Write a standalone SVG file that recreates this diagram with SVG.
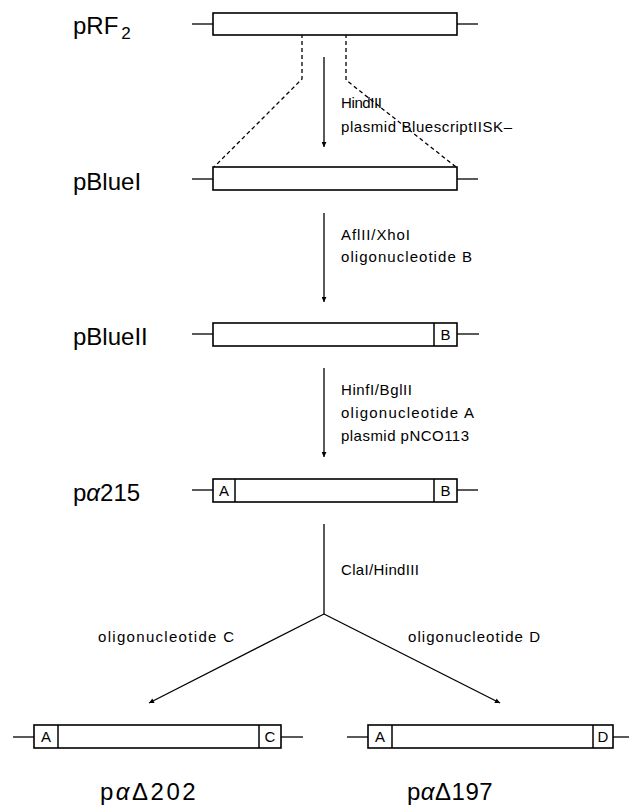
<svg xmlns="http://www.w3.org/2000/svg" width="629" height="806" viewBox="0 0 629 806">
  <style>
    .box { fill: #fff; stroke: #000; stroke-width: 1.6; }
    .div { stroke: #000; stroke-width: 1.5; }
    .stub { stroke: #000; stroke-width: 1.3; }
    .conn { stroke: #000; stroke-width: 1.3; fill: none; }
    .dash { stroke: #000; stroke-width: 1.3; fill: none; stroke-dasharray: 4 3; }
    .name { font-family: "Liberation Sans", Arial, sans-serif; font-size: 24px; fill: #000; }
    .lbl { font-family: "Liberation Sans", Arial, sans-serif; font-size: 15px; fill: #000; }
    .cell { font-family: "Liberation Sans", Arial, sans-serif; font-size: 15px; fill: #000; text-anchor: middle; }
  </style>
  <defs>
    <marker id="arr" viewBox="0 0 10 10" refX="10" refY="5" markerUnits="userSpaceOnUse" markerWidth="9" markerHeight="5" orient="auto">
      <path d="M0,0 L10,5 L0,10 z" fill="#000"/>
    </marker>
  </defs>

  <!-- connectors -->
  <g id="connectors">
    <path class="dash" d="M302,13 V79 L214,167"/>
    <path class="dash" d="M346,13 V80 L456,167"/>
    <line class="conn" x1="324" y1="57" x2="324" y2="147" marker-end="url(#arr)"/>
    <line class="conn" x1="324" y1="213" x2="324" y2="302" marker-end="url(#arr)"/>
    <line class="conn" x1="324" y1="368" x2="324" y2="457" marker-end="url(#arr)"/>
    <line class="conn" x1="324" y1="524" x2="324" y2="614"/>
    <line class="conn" x1="324" y1="614" x2="149" y2="703" marker-end="url(#arr)"/>
    <line class="conn" x1="324" y1="614" x2="500" y2="703" marker-end="url(#arr)"/>
    <text class="lbl" x="341" y="108" textLength="41">HindIII</text>
    <text class="lbl" x="341" y="132" textLength="171">plasmid BluescriptIISK–</text>
    <text class="lbl" x="341" y="240" textLength="69">AflII/XhoI</text>
    <text class="lbl" x="341" y="262" textLength="131">oligonucleotide  B</text>
    <text class="lbl" x="341" y="395" textLength="71">HinfI/BglII</text>
    <text class="lbl" x="341" y="418" textLength="133">oligonucleotide  A</text>
    <text class="lbl" x="341" y="441" textLength="128">plasmid  pNCO113</text>
    <text class="lbl" x="341" y="575" textLength="78">ClaI/HindIII</text>
    <text class="lbl" x="98" y="642" textLength="136">oligonucleotide  C</text>
    <text class="lbl" x="408" y="642" textLength="132">oligonucleotide  D</text>
  </g>

  <!-- pRF2 -->
  <g id="pRF2">
    <line class="stub" x1="192" y1="24" x2="213" y2="24"/>
    <line class="stub" x1="457" y1="24" x2="478" y2="24"/>
    <rect class="box" x="213" y="13" width="244" height="22"/>
    <text class="name" x="73" y="34">pRF<tspan dx="3" dy="5" font-size="17">2</tspan></text>
  </g>

  <!-- pBlueI -->
  <g id="pBlueI">
    <line class="stub" x1="192" y1="179" x2="213" y2="179"/>
    <line class="stub" x1="457" y1="179" x2="478" y2="179"/>
    <rect class="box" x="213" y="167" width="244" height="23"/>
    <text class="name" x="73" y="190">pBlueI</text>
  </g>

  <!-- pBlueII -->
  <g id="pBlueII">
    <line class="stub" x1="192" y1="334" x2="213" y2="334"/>
    <line class="stub" x1="457" y1="334" x2="479" y2="334"/>
    <rect class="box" x="213" y="323" width="244" height="23"/>
    <line class="div" x1="434" y1="323" x2="434" y2="346"/>
    <text class="cell" x="445.5" y="340">B</text>
    <text class="name" x="73" y="345">pBlueII</text>
  </g>

  <!-- pα215 -->
  <g id="pa215">
    <line class="stub" x1="192" y1="490" x2="213" y2="490"/>
    <line class="stub" x1="457" y1="490" x2="478" y2="490"/>
    <rect class="box" x="213" y="479" width="244" height="23"/>
    <line class="div" x1="235" y1="479" x2="235" y2="502"/>
    <line class="div" x1="434" y1="479" x2="434" y2="502"/>
    <text class="cell" x="224" y="496">A</text>
    <text class="cell" x="445.5" y="496">B</text>
    <text class="name" x="73" y="501">p<tspan font-style="italic">α</tspan>215</text>
  </g>

  <!-- pαΔ202 -->
  <g id="paD202">
    <line class="stub" x1="13" y1="737" x2="34" y2="737"/>
    <line class="stub" x1="281" y1="737" x2="303" y2="737"/>
    <rect class="box" x="34" y="725" width="247" height="23"/>
    <line class="div" x1="58" y1="725" x2="58" y2="748"/>
    <line class="div" x1="259" y1="725" x2="259" y2="748"/>
    <text class="cell" x="46" y="742">A</text>
    <text class="cell" x="270" y="742">C</text>
    <text class="name" x="100" y="800" font-size="29" letter-spacing="2.5">p<tspan font-style="italic">α</tspan>Δ202</text>
  </g>

  <!-- pαΔ197 -->
  <g id="paD197">
    <line class="stub" x1="347" y1="737" x2="368" y2="737"/>
    <line class="stub" x1="613" y1="737" x2="629" y2="737"/>
    <rect class="box" x="368" y="725" width="245" height="23"/>
    <line class="div" x1="392" y1="725" x2="392" y2="748"/>
    <line class="div" x1="593" y1="725" x2="593" y2="748"/>
    <text class="cell" x="380" y="742">A</text>
    <text class="cell" x="603" y="742">D</text>
    <text class="name" x="407" y="800" font-size="28" letter-spacing="0.5">p<tspan font-style="italic">α</tspan>Δ197</text>
  </g>
</svg>
